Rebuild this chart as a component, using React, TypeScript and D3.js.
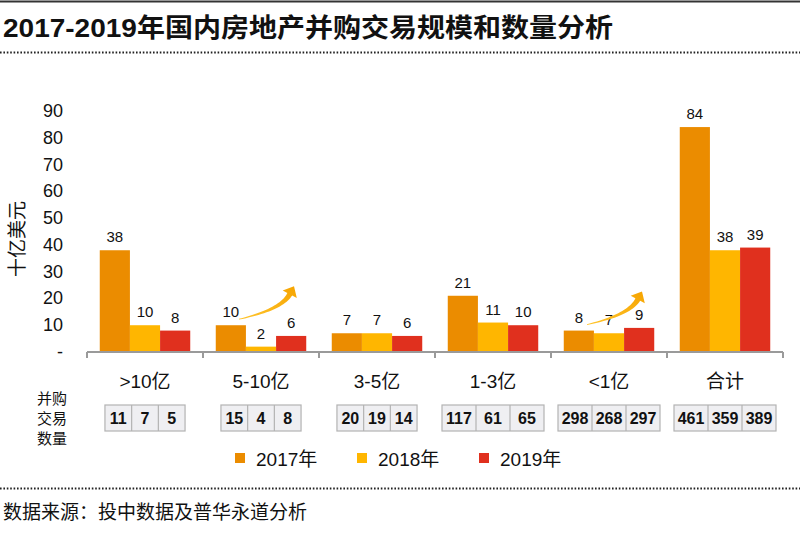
import React from "react";
import * as d3 from "d3";

const title = "2017-2019年国内房地产并购交易规模和数量分析";
const categories = [">10亿", "5-10亿", "3-5亿", "1-3亿", "<1亿", "合计"];
const years = ["2017年", "2018年", "2019年"];
const values2017 = [38, 10, 7, 21, 8, 84];
const values2018 = [10, 2, 7, 11, 7, 38];
const values2019 = [8, 6, 6, 10, 9, 39];
const counts2017 = [11, 15, 20, 117, 298, 461];
const counts2018 = [7, 4, 19, 61, 268, 359];
const counts2019 = [5, 8, 14, 65, 297, 389];
const yTicks = [0, 10, 20, 30, 40, 50, 60, 70, 80, 90];
const arrowCategories = ["5-10亿", "<1亿"];
const yAxisTitle = "十亿美元";
const countLabel = ["并购", "交易", "数量"];
const sourceText = "数据来源：投中数据及普华永道分析";

const colors = ["#EB8C00", "#FFB600", "#E0301E"];
const FONT = "'Liberation Sans', Arial, 'Noto Sans CJK SC', sans-serif";

const W = 800;
const H = 533;

function arrowShape(S: [number, number], C: [number, number], T: [number, number]) {
  const dx = T[0] - C[0];
  const dy = T[1] - C[1];
  const len = Math.hypot(dx, dy);
  const ux = dx / len;
  const uy = dy / len;
  const headL = 9;
  const headHW = 8;
  const E: [number, number] = [T[0] - ux * headL, T[1] - uy * headL];
  const C2: [number, number] = [C[0] - ux * 2, C[1] - uy * 2];
  const n = 24;
  const left: [number, number][] = [];
  const right: [number, number][] = [];
  for (let i = 0; i <= n; i++) {
    const t = i / n;
    const x = (1 - t) * (1 - t) * S[0] + 2 * (1 - t) * t * C2[0] + t * t * E[0];
    const y = (1 - t) * (1 - t) * S[1] + 2 * (1 - t) * t * C2[1] + t * t * E[1];
    const tx = 2 * (1 - t) * (C2[0] - S[0]) + 2 * t * (E[0] - C2[0]);
    const ty = 2 * (1 - t) * (C2[1] - S[1]) + 2 * t * (E[1] - C2[1]);
    const tl = Math.hypot(tx, ty) || 1;
    const nx = -ty / tl;
    const ny = tx / tl;
    const hw = 0.4 + 2.3 * t;
    left.push([x + nx * hw, y + ny * hw]);
    right.push([x - nx * hw, y - ny * hw]);
  }
  const px = -uy;
  const py = ux;
  const headA: [number, number] = [E[0] + px * headHW, E[1] + py * headHW];
  const headB: [number, number] = [E[0] - px * headHW, E[1] - py * headHW];
  const pts = [...left, headA, T, headB, ...right.reverse()];
  return "M" + pts.map((p) => `${p[0].toFixed(2)},${p[1].toFixed(2)}`).join("L") + "Z";
}

export default function App() {
  const y = d3.scaleLinear().domain([0, 90]).range([352, 111]);
  const x = d3.scaleBand<string>().domain(categories).range([87, 783]).padding(0);
  const bw = x.bandwidth();
  const xSub = d3
    .scaleBand<string>()
    .domain(years)
    .range([bw * 0.11, bw * 0.89])
    .padding(0);
  const series = [values2017, values2018, values2019];
  const counts = [counts2017, counts2018, counts2019];
  const boundaries = [...categories.map((c) => x(c) as number), 783];

  return (
    <svg
      width={W}
      height={H}
      viewBox={`0 0 ${W} ${H}`}
      style={{ position: "absolute", left: 0, top: 0, background: "#fff" }}
      fontFamily={FONT}
    >
      <defs>
        <linearGradient id="arrowGrad" x1="0" y1="1" x2="1" y2="0">
          <stop offset="0" stopColor="#FFC52E" />
          <stop offset="1" stopColor="#F6A400" />
        </linearGradient>
      </defs>
      <rect x={0} y={0} width={W} height={H} fill="#fff" />
      <line x1={0} x2={W} y1={1.5} y2={1.5} stroke="#333" strokeWidth={2} />
      <text x={3} y={37} fontSize={26} fontWeight="bold" fill="#111" textLength={610} lengthAdjust="spacingAndGlyphs">
        {title}
      </text>
      <line x1={0} x2={W} y1={52.5} y2={52.5} stroke="#222" strokeWidth={2} strokeDasharray="1.6 1.8" />

      {yTicks.map((t) => (
        <text key={t} x={63} y={y(t)} fontSize={18} textAnchor="end" dominantBaseline="central" fill="#111">
          {t === 0 ? "-" : t}
        </text>
      ))}
      <text
        transform={`translate(17,239) rotate(-90)`}
        fontSize={19}
        textAnchor="middle"
        dominantBaseline="central"
        fill="#111"
      >
        {yAxisTitle}
      </text>

      {categories.map((c, ci) => (
        <g key={c} transform={`translate(${x(c)},0)`}>
          {series.map((s, si) => (
            <g key={si}>
              <rect
                x={xSub(years[si])}
                y={y(s[ci])}
                width={xSub.bandwidth()}
                height={y(0) - y(s[ci])}
                fill={colors[si]}
              />
              <text
                x={(xSub(years[si]) as number) + xSub.bandwidth() / 2}
                y={y(s[ci]) - 8}
                fontSize={15}
                textAnchor="middle"
                fill="#111"
              >
                {s[ci]}
              </text>
            </g>
          ))}
        </g>
      ))}

      <line x1={87} x2={783} y1={y(0)} y2={y(0)} stroke="#9a9a9a" strokeWidth={2} />
      {boundaries.map((b, i) => (
        <line key={i} x1={b} x2={b} y1={y(0)} y2={y(0) + 6} stroke="#9a9a9a" strokeWidth={2} />
      ))}
      {categories.map((c) => (
        <text
          key={c}
          x={(x(c) as number) + bw / 2}
          y={381}
          fontSize={19}
          textAnchor="middle"
          dominantBaseline="central"
          fill="#111"
        >
          {c}
        </text>
      ))}

      {arrowCategories.map((c) => {
        const ci = categories.indexOf(c);
        const x0 = x(c) as number;
        const sy = y(values2017[ci]) - 6;
        const S: [number, number] = [x0 + 36, sy];
        const T: [number, number] = [x0 + 91, sy - 33];
        const C: [number, number] = [T[0] - 11.5, T[1] + 21.5];
        return <path key={c} d={arrowShape(S, C, T)} fill="url(#arrowGrad)" />;
      })}

      {countLabel.map((l, i) => (
        <text key={l} x={37} y={398 + i * 20} fontSize={15} dominantBaseline="central" fill="#111">
          {l}
        </text>
      ))}

      {categories.map((c, ci) => {
        const vals = counts.map((cs) => cs[ci]);
        const maxDigits = d3.max(vals, (v) => String(v).length) as number;
        const cellW = maxDigits >= 3 ? 34 : 26.7;
        const total = cellW * 3;
        const cx = (x(c) as number) + bw / 2;
        const left = cx - total / 2;
        return (
          <g key={c}>
            <rect x={left} y={405} width={total} height={26} fill="#EFEFF2" stroke="#B3B3B3" strokeWidth={1.2} />
            {[1, 2].map((k) => (
              <line
                key={k}
                x1={left + cellW * k}
                x2={left + cellW * k}
                y1={405}
                y2={431}
                stroke="#B3B3B3"
                strokeWidth={1.2}
              />
            ))}
            {vals.map((v, k) => (
              <text
                key={k}
                x={left + cellW * k + cellW / 2}
                y={418.5}
                fontSize={16}
                fontWeight="bold"
                textAnchor="middle"
                dominantBaseline="central"
                fill="#111"
              >
                {v}
              </text>
            ))}
          </g>
        );
      })}

      {years.map((yr, i) => {
        const lx = [235, 357, 479][i];
        return (
          <g key={yr}>
            <rect x={lx} y={453} width={10} height={10} fill={colors[i]} />
            <text x={lx + 21} y={459} fontSize={19} dominantBaseline="central" fill="#111">
              {yr}
            </text>
          </g>
        );
      })}

      <line x1={0} x2={W} y1={488.5} y2={488.5} stroke="#222" strokeWidth={2} strokeDasharray="1.6 1.8" />
      <text x={3} y={512} fontSize={19} dominantBaseline="central" fill="#111">
        {sourceText}
      </text>
    </svg>
  );
}
